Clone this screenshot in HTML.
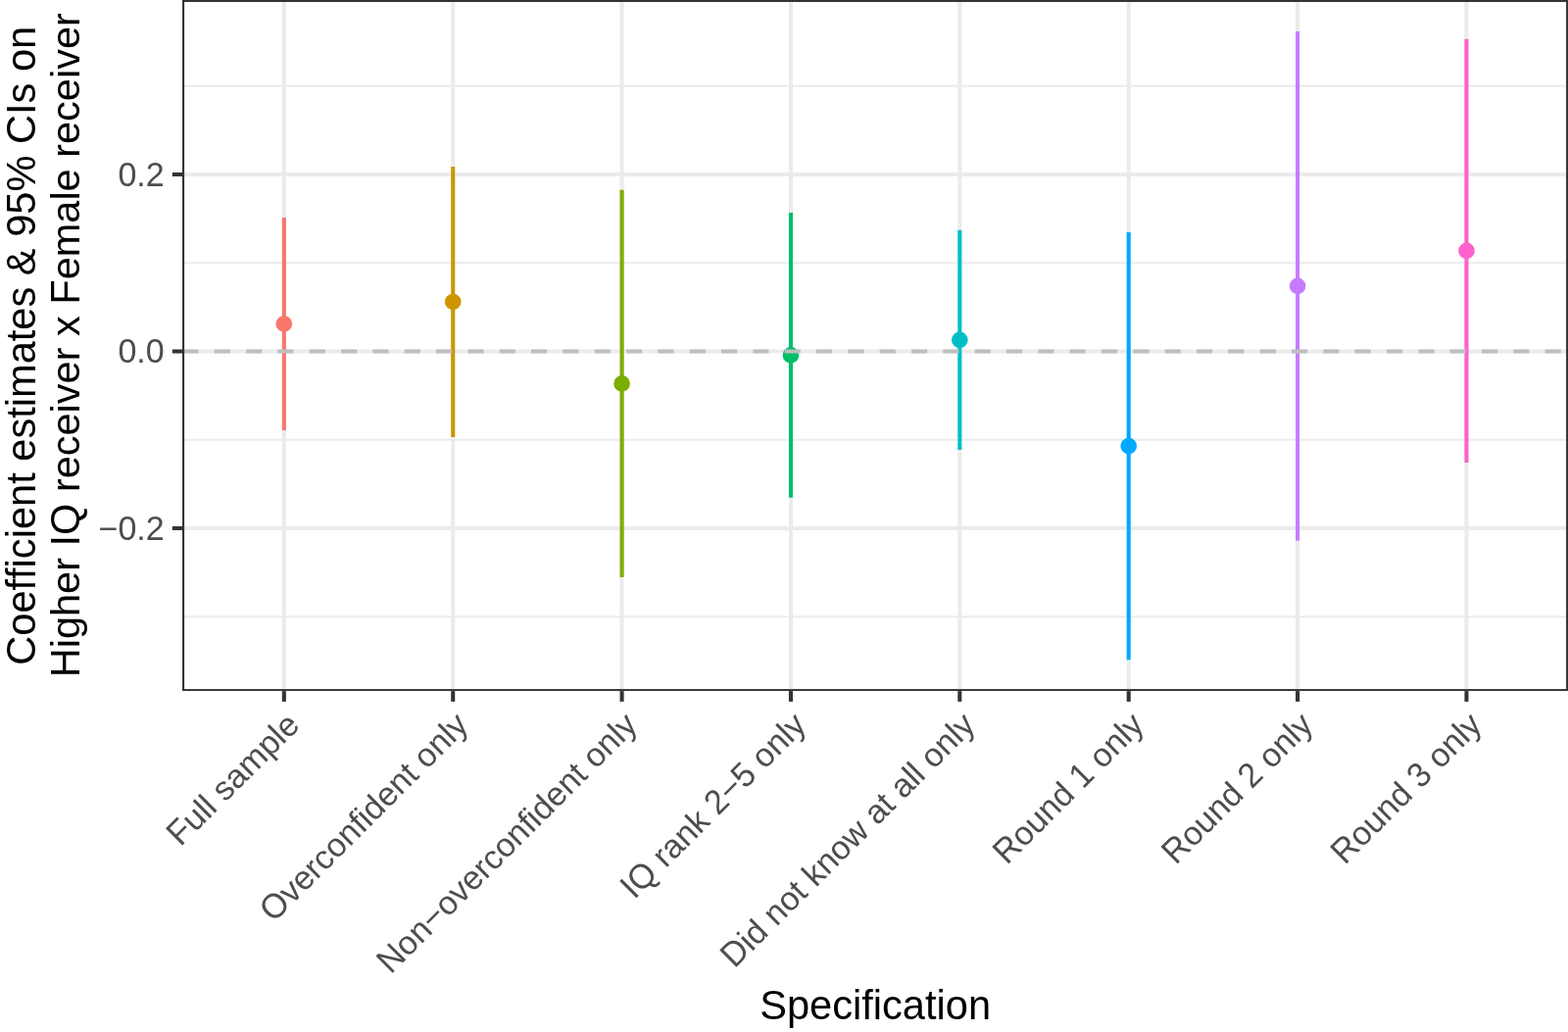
<!DOCTYPE html><html><head><meta charset="utf-8"><style>html,body{margin:0;padding:0;background:#fff;overflow:hidden;width:1600px;height:1053px;}svg{display:block;}text{font-family:"Liberation Sans",Arial,sans-serif;font-kerning:none;font-variant-ligatures:none;}</style></head><body>
<svg width="1600" height="1053" viewBox="0 0 1600 1053">
<rect x="0" y="0" width="1600" height="1053" fill="#fff"/>
<clipPath id="pc"><rect x="186.1" y="0.0" width="1414.0" height="705.1"/></clipPath>
<g clip-path="url(#pc)">
<line x1="186.1" x2="1600.1" y1="629.25" y2="629.25" stroke="#EBEBEB" stroke-width="2.0"/>
<line x1="186.1" x2="1600.1" y1="448.75" y2="448.75" stroke="#EBEBEB" stroke-width="2.0"/>
<line x1="186.1" x2="1600.1" y1="268.25" y2="268.25" stroke="#EBEBEB" stroke-width="2.0"/>
<line x1="186.1" x2="1600.1" y1="87.75" y2="87.75" stroke="#EBEBEB" stroke-width="2.0"/>
<line x1="186.1" x2="1600.1" y1="539.00" y2="539.00" stroke="#EBEBEB" stroke-width="4.05"/>
<line x1="186.1" x2="1600.1" y1="358.50" y2="358.50" stroke="#EBEBEB" stroke-width="4.05"/>
<line x1="186.1" x2="1600.1" y1="178.00" y2="178.00" stroke="#EBEBEB" stroke-width="4.05"/>
<line x1="289.85" x2="289.85" y1="0.0" y2="705.1" stroke="#EBEBEB" stroke-width="4.05"/>
<line x1="462.22" x2="462.22" y1="0.0" y2="705.1" stroke="#EBEBEB" stroke-width="4.05"/>
<line x1="634.59" x2="634.59" y1="0.0" y2="705.1" stroke="#EBEBEB" stroke-width="4.05"/>
<line x1="806.96" x2="806.96" y1="0.0" y2="705.1" stroke="#EBEBEB" stroke-width="4.05"/>
<line x1="979.33" x2="979.33" y1="0.0" y2="705.1" stroke="#EBEBEB" stroke-width="4.05"/>
<line x1="1151.70" x2="1151.70" y1="0.0" y2="705.1" stroke="#EBEBEB" stroke-width="4.05"/>
<line x1="1324.07" x2="1324.07" y1="0.0" y2="705.1" stroke="#EBEBEB" stroke-width="4.05"/>
<line x1="1496.44" x2="1496.44" y1="0.0" y2="705.1" stroke="#EBEBEB" stroke-width="4.05"/>
<line x1="289.85" x2="289.85" y1="221.9" y2="439.0" stroke="#F8766D" stroke-width="4.05"/>
<circle cx="289.85" cy="330.45" r="8.3" fill="#F8766D"/>
<line x1="462.22" x2="462.22" y1="170.06" y2="445.9" stroke="#CD9600" stroke-width="4.05"/>
<circle cx="462.22" cy="307.98" r="8.3" fill="#CD9600"/>
<line x1="634.59" x2="634.59" y1="193.8" y2="589.0" stroke="#7CAE00" stroke-width="4.05"/>
<circle cx="634.59" cy="391.40" r="8.3" fill="#7CAE00"/>
<line x1="806.96" x2="806.96" y1="216.9" y2="507.85" stroke="#00BE67" stroke-width="4.05"/>
<circle cx="806.96" cy="362.38" r="8.3" fill="#00BE67"/>
<line x1="979.33" x2="979.33" y1="234.8" y2="459.0" stroke="#00BFC4" stroke-width="4.05"/>
<circle cx="979.33" cy="346.90" r="8.3" fill="#00BFC4"/>
<line x1="1151.70" x2="1151.70" y1="237.1" y2="673.2" stroke="#00A9FF" stroke-width="4.05"/>
<circle cx="1151.70" cy="455.15" r="8.3" fill="#00A9FF"/>
<line x1="1324.07" x2="1324.07" y1="31.9" y2="551.8" stroke="#C77CFF" stroke-width="4.05"/>
<circle cx="1324.07" cy="291.85" r="8.3" fill="#C77CFF"/>
<line x1="1496.44" x2="1496.44" y1="39.75" y2="472.0" stroke="#FF61CC" stroke-width="4.05"/>
<circle cx="1496.44" cy="255.88" r="8.3" fill="#FF61CC"/>
<line x1="186.4" x2="1600.1" y1="358.50" y2="358.50" stroke="#BEBEBE" stroke-width="3.8" stroke-dasharray="16.17 16.16"/>
<rect x="186.1" y="0.0" width="1414.0" height="705.1" fill="none" stroke="#333333" stroke-width="4.05"/>
</g>
<line x1="175.80" x2="186.1" y1="539.00" y2="539.00" stroke="#333333" stroke-width="4.05"/>
<line x1="175.80" x2="186.1" y1="358.50" y2="358.50" stroke="#333333" stroke-width="4.05"/>
<line x1="175.80" x2="186.1" y1="178.00" y2="178.00" stroke="#333333" stroke-width="4.05"/>
<line x1="289.85" x2="289.85" y1="705.1" y2="715.90" stroke="#333333" stroke-width="4.05"/>
<line x1="462.22" x2="462.22" y1="705.1" y2="715.90" stroke="#333333" stroke-width="4.05"/>
<line x1="634.59" x2="634.59" y1="705.1" y2="715.90" stroke="#333333" stroke-width="4.05"/>
<line x1="806.96" x2="806.96" y1="705.1" y2="715.90" stroke="#333333" stroke-width="4.05"/>
<line x1="979.33" x2="979.33" y1="705.1" y2="715.90" stroke="#333333" stroke-width="4.05"/>
<line x1="1151.70" x2="1151.70" y1="705.1" y2="715.90" stroke="#333333" stroke-width="4.05"/>
<line x1="1324.07" x2="1324.07" y1="705.1" y2="715.90" stroke="#333333" stroke-width="4.05"/>
<line x1="1496.44" x2="1496.44" y1="705.1" y2="715.90" stroke="#333333" stroke-width="4.05"/>
<text x="167.7" y="550.70" text-anchor="end" font-size="34" fill="#4D4D4D">−<tspan font-size="35.19" textLength="18.909" lengthAdjust="spacingAndGlyphs">0</tspan>.<tspan font-size="35.19" textLength="18.909" lengthAdjust="spacingAndGlyphs">2</tspan></text>
<text x="167.7" y="370.20" text-anchor="end" font-size="34" fill="#4D4D4D"><tspan font-size="35.19" textLength="18.909" lengthAdjust="spacingAndGlyphs">0</tspan>.<tspan font-size="35.19" textLength="18.909" lengthAdjust="spacingAndGlyphs">0</tspan></text>
<text x="167.7" y="189.70" text-anchor="end" font-size="34" fill="#4D4D4D"><tspan font-size="35.19" textLength="18.909" lengthAdjust="spacingAndGlyphs">0</tspan>.<tspan font-size="35.19" textLength="18.909" lengthAdjust="spacingAndGlyphs">2</tspan></text>
<text transform="translate(307.27,741.52) rotate(-45)" text-anchor="end" font-size="34" fill="#4D4D4D"><tspan font-size="35.36" textLength="20.769" lengthAdjust="spacingAndGlyphs">F</tspan>ull sample</text>
<text transform="translate(479.64,741.52) rotate(-45)" text-anchor="end" font-size="34" fill="#4D4D4D"><tspan font-size="35.36" textLength="26.446" lengthAdjust="spacingAndGlyphs">O</tspan>verconfident only</text>
<text transform="translate(652.01,741.52) rotate(-45)" text-anchor="end" font-size="34" fill="#4D4D4D"><tspan font-size="35.36" textLength="24.554" lengthAdjust="spacingAndGlyphs">N</tspan>on−overconfident only</text>
<text transform="translate(824.38,741.52) rotate(-45)" text-anchor="end" font-size="34" fill="#4D4D4D"><tspan font-size="35.36" textLength="35.893" lengthAdjust="spacingAndGlyphs">IQ</tspan> rank <tspan font-size="35.19" textLength="18.909" lengthAdjust="spacingAndGlyphs">2</tspan>−<tspan font-size="35.19" textLength="18.909" lengthAdjust="spacingAndGlyphs">5</tspan> only</text>
<text transform="translate(996.75,741.52) rotate(-45)" text-anchor="end" font-size="34" fill="#4D4D4D"><tspan font-size="35.36" textLength="24.554" lengthAdjust="spacingAndGlyphs">D</tspan>id not know at all only</text>
<text transform="translate(1169.12,741.52) rotate(-45)" text-anchor="end" font-size="34" fill="#4D4D4D"><tspan font-size="35.36" textLength="24.554" lengthAdjust="spacingAndGlyphs">R</tspan>ound <tspan font-size="35.19" textLength="18.909" lengthAdjust="spacingAndGlyphs">1</tspan> only</text>
<text transform="translate(1341.49,741.52) rotate(-45)" text-anchor="end" font-size="34" fill="#4D4D4D"><tspan font-size="35.36" textLength="24.554" lengthAdjust="spacingAndGlyphs">R</tspan>ound <tspan font-size="35.19" textLength="18.909" lengthAdjust="spacingAndGlyphs">2</tspan> only</text>
<text transform="translate(1513.86,741.52) rotate(-45)" text-anchor="end" font-size="34" fill="#4D4D4D"><tspan font-size="35.36" textLength="24.554" lengthAdjust="spacingAndGlyphs">R</tspan>ound <tspan font-size="35.19" textLength="18.909" lengthAdjust="spacingAndGlyphs">3</tspan> only</text>
<text x="893.10" y="1039.6" text-anchor="middle" font-size="41.6" fill="#000"><tspan font-size="43.26" textLength="27.747" lengthAdjust="spacingAndGlyphs">S</tspan>pecification</text>
<text transform="translate(35.8,352.80) rotate(-90)" text-anchor="middle" font-size="41.6" fill="#000"><tspan font-size="43.26" textLength="30.042" lengthAdjust="spacingAndGlyphs">C</tspan>oefficient estimates <tspan font-size="43.06" textLength="27.747" lengthAdjust="spacingAndGlyphs">&amp;</tspan> <tspan font-size="43.06" textLength="83.261" lengthAdjust="spacingAndGlyphs">95%</tspan> <tspan font-size="43.26" textLength="41.600" lengthAdjust="spacingAndGlyphs">CI</tspan>s on</text>
<text transform="translate(80.8,352.20) rotate(-90)" text-anchor="middle" font-size="41.5" fill="#000"><tspan font-size="43.16" textLength="29.970" lengthAdjust="spacingAndGlyphs">H</tspan>igher <tspan font-size="43.16" textLength="43.810" lengthAdjust="spacingAndGlyphs">IQ</tspan> receiver x <tspan font-size="43.16" textLength="25.350" lengthAdjust="spacingAndGlyphs">F</tspan>emale receiver</text>
</svg></body></html>
